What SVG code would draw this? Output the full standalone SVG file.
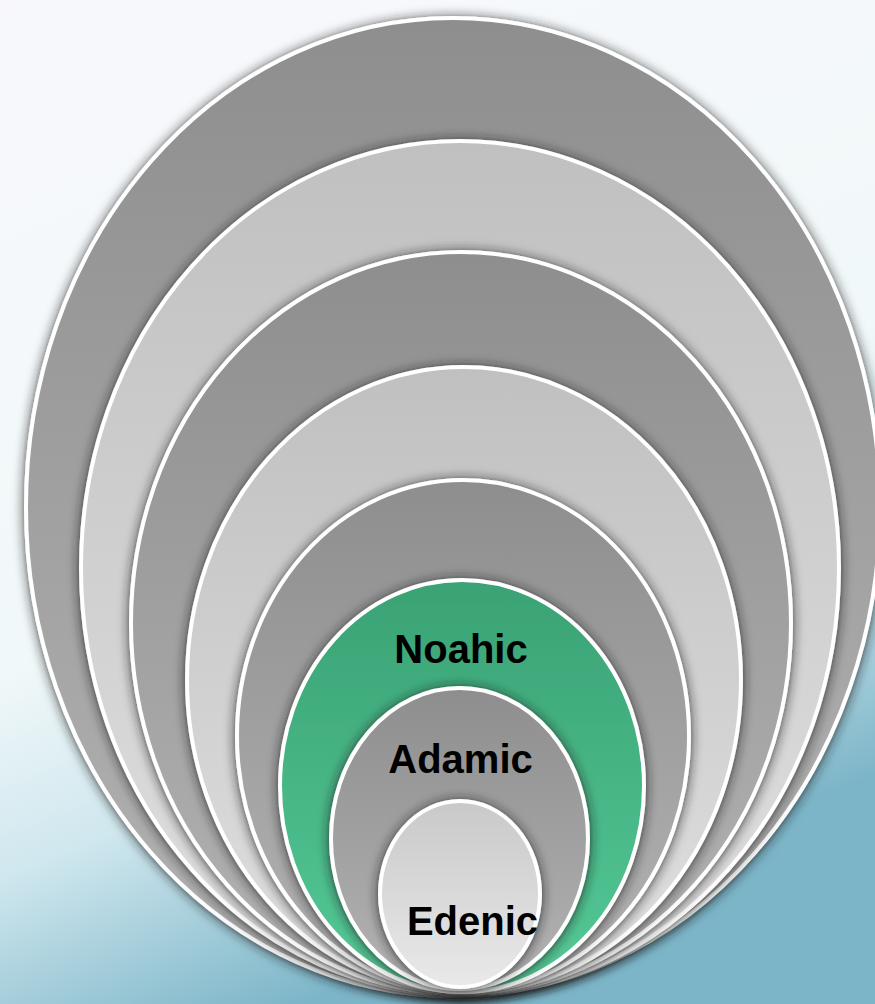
<svg xmlns="http://www.w3.org/2000/svg" width="875" height="1004" viewBox="0 0 875 1004">
  <defs>
    <linearGradient id="bg" x1="0" y1="0" x2="0.35" y2="1">
      <stop offset="0" stop-color="#f8f8fc"/>
      <stop offset="0.6" stop-color="#f1f8f9"/>
      <stop offset="0.78" stop-color="#cfe7ee"/>
      <stop offset="1" stop-color="#7cb5c8"/>
    </linearGradient>
    <linearGradient id="dark" x1="0" y1="0" x2="0" y2="1">
      <stop offset="0" stop-color="#8e8e8e"/>
      <stop offset="1" stop-color="#b3b3b3"/>
    </linearGradient>
    <linearGradient id="light" x1="0" y1="0" x2="0" y2="1">
      <stop offset="0" stop-color="#c0c0c0"/>
      <stop offset="1" stop-color="#e0e0e0"/>
    </linearGradient>
    <linearGradient id="green" x1="0" y1="0" x2="0" y2="1">
      <stop offset="0" stop-color="#3aa274"/>
      <stop offset="1" stop-color="#55c997"/>
    </linearGradient>
    <linearGradient id="pale" x1="0" y1="0" x2="0" y2="1">
      <stop offset="0" stop-color="#c9c9c9"/>
      <stop offset="1" stop-color="#e9e9e9"/>
    </linearGradient>
    <filter id="sh" x="-10%" y="-10%" width="120%" height="120%">
      <feDropShadow dx="0" dy="1" stdDeviation="6" flood-color="#1a1a1a" flood-opacity="0.85"/>
    </filter>
  </defs>
  <style>
    .ring { stroke: #ffffff; stroke-width: 4; filter: url(#sh); }
    .lbl { font-family: "Liberation Sans", Arial, sans-serif; font-weight: bold; font-size: 40px; fill: #000; text-anchor: middle; }
  </style>
  <rect x="0" y="0" width="875" height="1004" fill="url(#bg)"/>
  <g id="ring1"><ellipse class="ring" cx="453" cy="507" rx="427" ry="489" fill="url(#dark)"/></g>
  <g id="ring2"><ellipse class="ring" cx="460" cy="568" rx="379" ry="427" fill="url(#light)"/></g>
  <g id="ring3"><ellipse class="ring" cx="461" cy="623" rx="330" ry="371" fill="url(#dark)"/></g>
  <g id="ring4"><ellipse class="ring" cx="464" cy="680" rx="277" ry="313" fill="url(#light)"/></g>
  <g id="ring5"><ellipse class="ring" cx="463" cy="736" rx="226" ry="256" fill="url(#dark)"/></g>
  <g id="noahic">
    <ellipse class="ring" cx="462" cy="786" rx="182" ry="206" fill="url(#green)"/>
    <text class="lbl" x="461" y="663">Noahic</text>
  </g>
  <g id="adamic">
    <ellipse class="ring" cx="459.5" cy="838.5" rx="128.5" ry="150.5" fill="url(#dark)"/>
    <text class="lbl" x="460.5" y="773">Adamic</text>
  </g>
  <g id="edenic">
    <ellipse class="ring" cx="460" cy="894" rx="80" ry="93" fill="url(#pale)"/>
    <text class="lbl" x="472.5" y="935">Edenic</text>
  </g>
  <g id="connectors"/>
</svg>
